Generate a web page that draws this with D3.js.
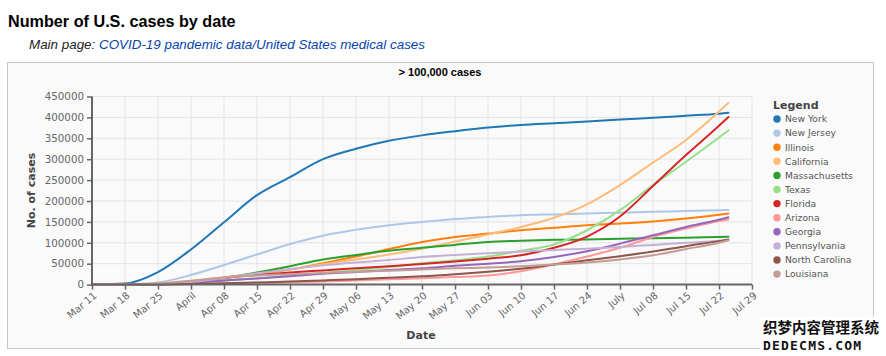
<!DOCTYPE html>
<html><head><meta charset="utf-8">
<script src="https://cdn.jsdelivr.net/npm/d3@7"></script>
<style>
body{margin:0;background:#fff;}
svg{display:block;}
</style></head><body>
<svg id="c" width="886" height="356"></svg>
<script>
const dates = ["2020-03-11","2020-03-18","2020-03-25","2020-04-01","2020-04-08","2020-04-15","2020-04-22","2020-04-29","2020-05-06","2020-05-13","2020-05-20","2020-05-27","2020-06-03","2020-06-10","2020-06-17","2020-06-24","2020-07-01","2020-07-08","2020-07-15","2020-07-22","2020-07-24"];
const stateNames = ["New York","New Jersey","Illinois","California","Massachusetts","Texas","Florida","Arizona","Georgia","Pennsylvania","North Carolina","Louisiana"];
const newYork = [200,2500,30000,84000,149000,214000,257000,300000,325000,344000,357000,367000,376000,382000,386000,390000,395000,399000,404000,409000,411000];
const newJersey = [20,300,5000,23000,47000,72000,97000,117000,131000,142000,150000,157000,162000,166000,168000,170000,172000,174000,176000,178000,178500];
const illinois = [30,300,1500,7000,15000,25000,36000,51000,67000,85000,102000,114000,122000,130000,136000,142000,146000,151000,158000,167000,170000];
const california = [200,800,3000,9500,17500,27000,37000,49000,60000,72000,86000,103000,120000,138000,160000,192000,238000,292000,346000,414000,435000];
const massachusetts = [100,250,1800,7700,16500,29000,44000,60000,71000,81000,88000,95000,102000,105000,107000,108000,109500,111000,112000,114000,114500];
const texas = [20,150,1400,4000,9700,15000,21000,28000,35000,42000,51000,58000,67000,81000,96000,130000,178000,238000,294000,352000,369000];
const florida = [30,300,1700,7000,16000,23000,29000,34000,39000,44000,49000,55000,62000,70000,88000,115000,163000,236000,310000,380000,401000];
const arizona = [10,30,400,1400,3000,4200,5500,7600,9900,12500,15000,18000,22000,32000,48000,67000,88000,114000,134000,152000,156000];
const georgia = [30,200,1000,4700,10000,14500,20000,26000,30000,35000,39000,45000,50000,56000,66000,80000,98000,118000,138000,155000,161000];
const pennsylvania = [20,150,1700,6000,16000,27000,37000,46000,53000,59000,66000,71000,75000,79000,83000,86000,90000,95000,100000,105000,107000];
const northCarolina = [10,60,500,1600,3400,5300,7200,10000,12900,16500,20000,25000,31000,38000,48000,58000,68000,79000,92000,104000,108000];
const louisiana = [10,200,1800,9000,17000,22000,25000,28000,31000,33000,36000,39000,41000,44000,48000,53000,60000,70000,85000,100000,106000];
const seriesValues = [newYork,newJersey,illinois,california,massachusetts,texas,florida,arizona,georgia,pennsylvania,northCarolina,louisiana];
const colors = ["#1f77b4","#aec7e8","#ff7f0e","#ffbb78","#2ca02c","#98df8a","#d62728","#ff9896","#9467bd","#c5b0d5","#8c564b","#c49c94"];
const xTickDates = ["2020-03-11","2020-03-18","2020-03-25","2020-04-01","2020-04-08","2020-04-15","2020-04-22","2020-04-29","2020-05-06","2020-05-13","2020-05-20","2020-05-27","2020-06-03","2020-06-10","2020-06-17","2020-06-24","2020-07-01","2020-07-08","2020-07-15","2020-07-22","2020-07-29"];
const xTickLabels = ["Mar 11","Mar 18","Mar 25","April","Apr 08","Apr 15","Apr 22","Apr 29","May 06","May 13","May 20","May 27","Jun 03","Jun 10","Jun 17","Jun 24","July","Jul 08","Jul 15","Jul 22","Jul 29"];
const yTicks = [0,50000,100000,150000,200000,250000,300000,350000,400000,450000];

const parse = d3.utcParse("%Y-%m-%d");
const svg = d3.select("#c");
const chartFont = "'DejaVu Sans', sans-serif";

// page title
svg.append("text").attr("x",8).attr("y",27).attr("font-family","'Liberation Sans', Arial, sans-serif")
  .attr("font-weight","bold").attr("font-size","16.2px").attr("fill","#000").text("Number of U.S. cases by date");
const sub = svg.append("text").attr("x",29).attr("y",49).attr("font-family","'Liberation Sans', Arial, sans-serif")
  .attr("font-style","italic").attr("font-size","13.4px");
sub.append("tspan").attr("fill","#222").text("Main page: ");
sub.append("tspan").attr("fill","#0645ad").text("COVID-19 pandemic data/United States medical cases");

// chart box
svg.append("rect").attr("x",7.5).attr("y",62.5).attr("width",866).attr("height",286)
  .attr("fill","#fafafa").attr("stroke","#c8c8c8").attr("stroke-width",1);

const x = d3.scaleUtc().domain([parse("2020-03-11"),parse("2020-07-29")]).range([92,752]);
const y = d3.scaleLinear().domain([0,450000]).range([284.6,96.5]);

// grid
const grid = svg.append("g");
grid.selectAll(".vg").data(xTickDates).join("line")
  .attr("x1",d=>x(parse(d))).attr("x2",d=>x(parse(d))).attr("y1",y(450000)).attr("y2",y(0))
  .attr("stroke","#e4e4e4").attr("stroke-width",1);
grid.selectAll(".hg").data(yTicks).join("line")
  .attr("x1",x.range()[0]).attr("x2",x.range()[1]).attr("y1",d=>y(d)).attr("y2",d=>y(d))
  .attr("stroke","#e4e4e4").attr("stroke-width",1);

// chart title
svg.append("text").attr("x",440).attr("y",76).attr("text-anchor","middle")
  .attr("font-family","'Liberation Sans', Arial, sans-serif").attr("font-weight","bold").attr("font-size","11px")
  .attr("fill","#000").text("> 100,000 cases");

// lines
const line = d3.line().x((d,i)=>x(parse(dates[i]))).y(d=>y(d)).curve(d3.curveMonotoneX);
svg.append("g").selectAll("path").data(seriesValues).join("path")
  .attr("d",d=>line(d)).attr("fill","none").attr("stroke",(d,i)=>colors[i]).attr("stroke-width",2)
  .attr("stroke-linejoin","round").attr("stroke-linecap","round");

// y axis
const yAxis = d3.axisLeft(y).tickValues(yTicks).tickFormat(d3.format("d")).tickSize(5).tickPadding(3);
const ya = svg.append("g").attr("transform","translate(92,0)").call(yAxis);
ya.select(".domain").attr("stroke","#666").attr("stroke-width",2).attr("d","M0,"+y(450000)+"V"+y(0));
ya.selectAll(".tick line").attr("stroke","#666").attr("stroke-width",1.5);
ya.selectAll(".tick text").attr("font-family",chartFont).attr("font-size","10.3px").attr("fill","#666");

// x axis
const xAxis = d3.axisBottom(x).tickValues(xTickDates.map(parse)).tickFormat((d,i)=>xTickLabels[i]).tickSize(5).tickPadding(3);
const xa = svg.append("g").attr("transform","translate(0,"+y(0)+")").call(xAxis);
xa.select(".domain").attr("stroke","#666").attr("stroke-width",2).attr("d","M"+x.range()[0]+",0H"+x.range()[1]);
xa.selectAll(".tick line").attr("stroke","#666").attr("stroke-width",1.5);
xa.selectAll(".tick text").attr("font-family",chartFont).attr("font-size","10px").attr("fill","#666")
  .attr("text-anchor","end").attr("dy",null).attr("y",null)
  .attr("transform","translate(5,12) rotate(-40)");

// axis titles
svg.append("text").attr("x",421).attr("y",339).attr("text-anchor","middle").attr("font-family",chartFont)
  .attr("font-weight","bold").attr("font-size","11px").attr("fill","#444").text("Date");
svg.append("text").attr("transform","translate(35,190.5) rotate(-90)").attr("text-anchor","middle").attr("font-family",chartFont)
  .attr("font-weight","bold").attr("font-size","11px").attr("fill","#444").text("No. of cases");

// legend
const lg = svg.append("g");
lg.append("text").attr("x",773).attr("y",109).attr("font-family",chartFont).attr("font-weight","bold")
  .attr("font-size","11px").attr("fill","#444").text("Legend");
const items = lg.selectAll(".li").data(stateNames).join("g").attr("transform",(d,i)=>"translate(777,"+(119+i*14.1)+")");
items.append("circle").attr("r",3.7).attr("fill",(d,i)=>colors[i]);
items.append("text").attr("x",8).attr("y",3.3).attr("font-family",chartFont).attr("font-size","9.2px")
  .attr("fill","#555").text(d=>d);

// watermark
const wm = svg.append("g");
wm.append("rect").attr("x",760).attr("y",317).attr("width",126).attr("height",39).attr("fill","#fff");
wm.append("text").attr("x",763).attr("y",333).attr("font-family","'Noto Sans CJK SC', sans-serif").attr("font-weight","bold")
  .attr("font-size","14.5px").attr("fill","#111").text("织梦内容管理系统");
wm.append("text").attr("x",763).attr("y",350).attr("font-family","'DejaVu Sans Mono', monospace").attr("font-weight","bold")
  .attr("font-size","13px").attr("letter-spacing","1.2px").attr("fill","#111").text("DEDECMS.COM");
</script>
</body></html>
